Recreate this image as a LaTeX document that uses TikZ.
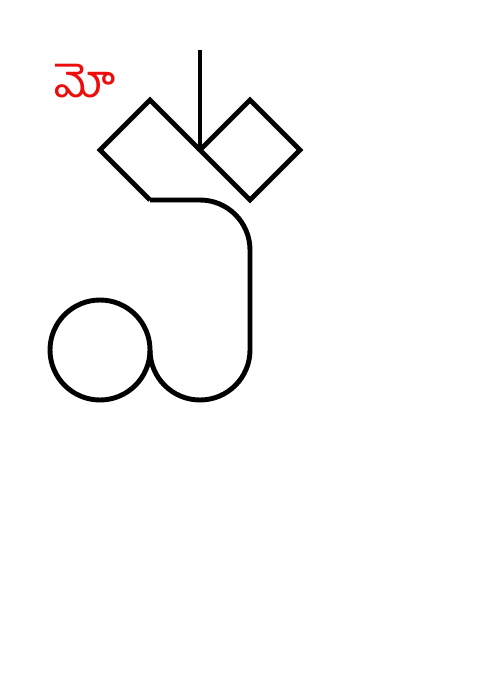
\documentclass[tikz,border=0pt]{standalone}
\usepackage{fontspec}
\newfontfamily\telugufont[Script=Telugu]{Hind Guntur}
\usetikzlibrary{positioning}
\definecolor{glyphred}{rgb}{0.93,0.05,0.05}

\begin{document}
\begin{tikzpicture}[x=0.02cm,y=-0.02cm,
    stroke/.style={line width=2.8pt,black,line join=miter}]
        \useasboundingbox (0,0) rectangle (500,700);
        % Define points
        \coordinate (T) at (200, 50);
        \coordinate (M) at (200, 150);
        \coordinate (L) at (100, 150);
        \coordinate (LT) at (150, 100);
        \coordinate (LB) at (150, 200);
        \coordinate (RT) at (250, 100);
        \coordinate (R) at (300, 150);
        \coordinate (RB) at (250, 200);
        \coordinate (O) at (100, 350);
        % Stem and the two diamonds
        \draw[stroke] (T) -- (M);
        \draw[stroke] (LB) -- (L) -- (LT) -- (M);
        \draw[stroke] (M) -- (RT) -- (R) -- (RB) -- cycle;
        % Hook with loop
        \draw[stroke] (LB) -- (200,200) arc[start angle=-90, end angle=0, radius=50]
        -- (250,350) arc[start angle=0, end angle=180, radius=50];
        \draw[stroke] (O) circle (50);
        % Label
        \node[glyphred, font=\telugufont\fontsize{26}{30}\selectfont] (lbl) at (85, 81) {మో};
\end{tikzpicture}
\end{document}
